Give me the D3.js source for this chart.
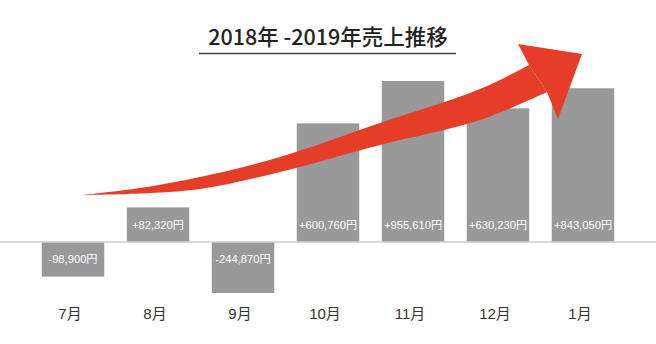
<!DOCTYPE html>
<html><head><meta charset="utf-8">
<script src="https://cdn.jsdelivr.net/npm/d3@7"></script>
<style>html,body{margin:0;padding:0;background:#fff;}svg{display:block;}</style>
</head><body>
<script>
const title = "2018年 -2019年売上推移";
const months = ["7月","8月","9月","10月","11月","12月","1月"];
const sales = [-98900, 82320, -244870, 600760, 955610, 630230, 843050];
// bar heights as drawn in the picture (relative index, 11月 = 100); the picture is not to scale
const barLevels = [-21.5, 21.5, -31.7, 73.7, 100, 83, 95.5];
// decorative trend arrow outline (upper and lower edge of shaft, head points)
const arrowUpper = [[83,195],[140,188],[200,177],[280,157],[380,123],[480,89],[529,65]];
const arrowLower = [[547,92],[480,120],[380,145],[280,172],[200,189],[140,193.5],[83,195]];
const arrowHead = [[529,65],[518,44],[582,54],[558,119],[547,92]];

const W = 656, H = 344;
const font = "'Noto Sans CJK JP', 'Noto Sans', sans-serif";
const labelFont = "'Liberation Sans', 'Noto Sans CJK JP', sans-serif";
const svg = d3.select("body").append("svg").attr("width", W).attr("height", H);

const x = d3.scaleBand().domain(months).range([30.5, 625.5]).paddingInner(0.265).paddingOuter(0.1325);
const y = d3.scaleLinear().domain([0, 100]).range([242, 81]);

const data = months.map((m, i) => ({m, v: sales[i], lvl: barLevels[i]}));

// bars
svg.append("g").selectAll("rect").data(data).join("rect")
  .attr("x", d => x(d.m))
  .attr("width", x.bandwidth())
  .attr("y", d => Math.min(y(d.lvl), y(0)))
  .attr("height", d => Math.abs(y(d.lvl) - y(0)))
  .attr("fill", "#999999");

// baseline
svg.append("line").attr("x1", 0).attr("x2", W).attr("y1", y(0)).attr("y2", y(0))
  .attr("stroke", "#cfcfcf").attr("stroke-width", 1.5);

// arrow
const line = d3.line().curve(d3.curveCatmullRom.alpha(0.5));
const pathStr = line(arrowUpper) + "L" + line(arrowLower).slice(1) + "Z";
svg.append("path").attr("d", pathStr).attr("fill", "#e53e28");
svg.append("path").attr("d", d3.line()(arrowHead) + "Z").attr("fill", "#e53e28");

// value labels
const fmt = v => (v >= 0 ? "+" : "-") + d3.format(",")(Math.abs(v)) + "円";
svg.append("g").selectAll("text").data(data).join("text")
  .attr("x", d => x(d.m) + x.bandwidth() / 2)
  .attr("y", d => d.lvl >= 0 ? y(0) - 17 : y(0) + 17)
  .attr("text-anchor", "middle")
  .attr("dominant-baseline", "central")
  .attr("fill", "#ffffff")
  .style("font-family", labelFont)
  .style("font-size", "11.2px")
  .text(d => fmt(d.v));

// x axis labels
const xAxis = d3.axisBottom(x).tickSize(0).tickPadding(0);
const gx = svg.append("g").attr("transform", `translate(-3,${308})`).call(xAxis);
gx.select(".domain").remove();
gx.selectAll("text").attr("fill", "#333").style("font-family", labelFont).style("font-size", "15px").style("font-weight", 400);

// title
svg.append("text").attr("x", 328).attr("y", 45).attr("text-anchor", "middle")
  .attr("fill", "#222").style("font-family", font).style("font-size", "21.5px").style("font-weight", 500)
  .text(title);
svg.append("line").attr("x1", 199).attr("x2", 456).attr("y1", 53.5).attr("y2", 53.5)
  .attr("stroke", "#444").attr("stroke-width", 1.5);
</script>
</body></html>
